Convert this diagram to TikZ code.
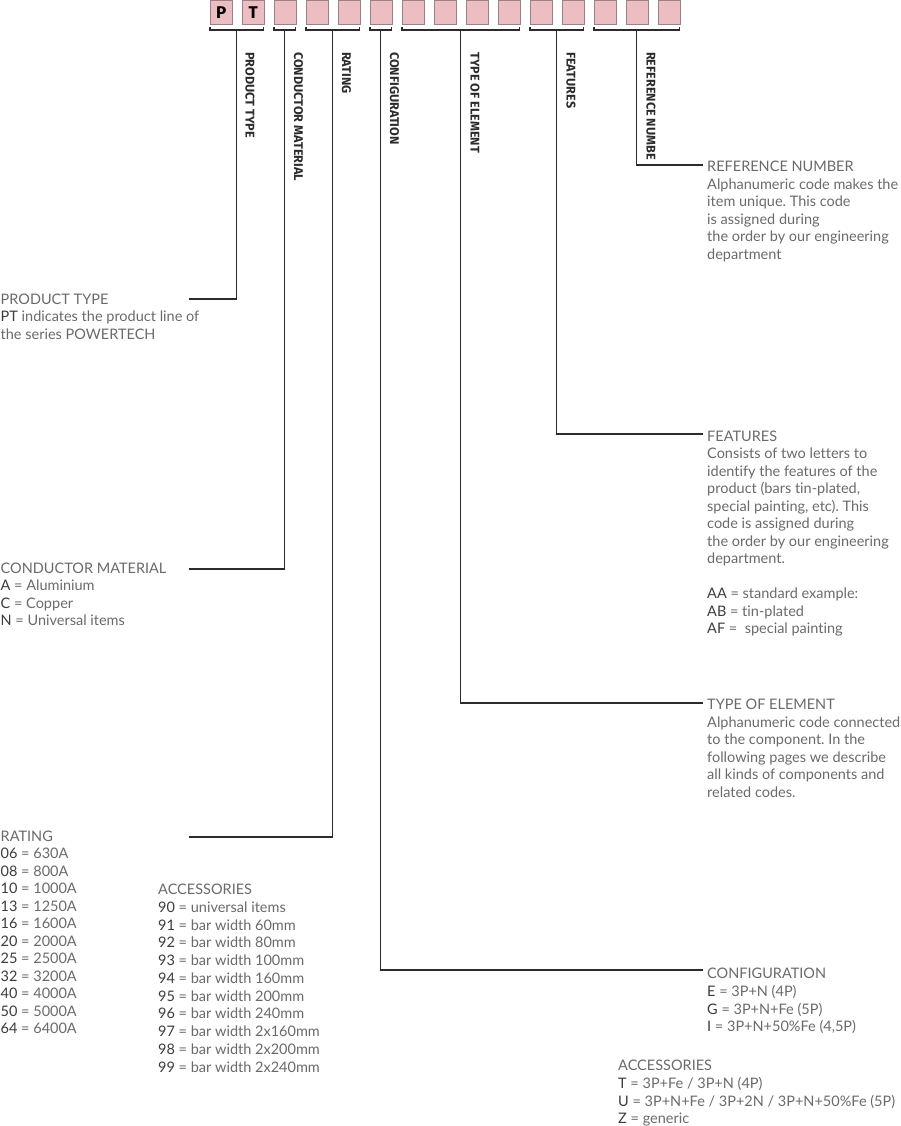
\documentclass[tikz,border=0pt]{standalone}
\usepackage{fontspec}
\setmainfont{Lato}[Ligatures={NoCommon}]
\newfontfamily\lblfont{Fira Sans}
\frenchspacing
\definecolor{txt}{HTML}{6A6A6A}
\definecolor{code}{HTML}{3C3C3C}
\definecolor{boxfill}{HTML}{ECBDC1}
\definecolor{boxline}{HTML}{9C8285}
\definecolor{ln}{HTML}{2B2B2B}
\newcommand{\cd}[1]{\textcolor{code}{#1}}
\tikzset{
  cbox/.style={draw=boxline, fill=boxfill, line width=0.8pt, minimum width=21.5pt, minimum height=23.5pt, inner sep=0pt, anchor=north west, font=\lblfont\bfseries\fontsize{17}{17}\selectfont, text=black},
  vlabel/.style={rotate=-90, anchor=west, inner sep=0pt, font=\lblfont\bfseries\fontsize{12.6}{13}\selectfont, text=ln},
  block/.style={anchor=north west, inner sep=0pt, align=left, text=txt, font=\fontsize{14.5}{17.5}\selectfont},
  conn/.style={draw=ln, line width=1.4pt},
  brk/.style={draw=ln, line width=1.2pt}
}
\begin{document}
\begin{tikzpicture}[x=1pt,y=-1pt]
\useasboundingbox (0,0) rectangle (900,1126);
% boxes
\foreach \i in {0,...,14}{
  \node[cbox] (b\i) at ({210+32*\i},0.5) {};
}
\node[font=\lblfont\bfseries\fontsize{17}{17}\selectfont] (tP) at (b0.center) {P};
\node[font=\lblfont\bfseries\fontsize{17}{17}\selectfont] (tT) at (b1.center) {T};
% brackets
\draw[brk] (210,27) -- (210,30) -- (263.5,30) -- (263.5,27);
\draw[brk] (274,27) -- (274,30) -- (295.5,30) -- (295.5,27);
\draw[brk] (306,27) -- (306,30) -- (359.5,30) -- (359.5,27);
\draw[brk] (370,27) -- (370,30) -- (391.5,30) -- (391.5,27);
\draw[brk] (402,27) -- (402,30) -- (519.5,30) -- (519.5,27);
\draw[brk] (530,27) -- (530,30) -- (583.5,30) -- (583.5,27);
\draw[brk] (594,27) -- (594,30) -- (679.5,30) -- (679.5,27);
\coordinate (sPT) at (236.75,30);
\coordinate (sCM) at (284.75,30);
\coordinate (sR) at (332.75,30);
\coordinate (sC) at (380.75,30);
\coordinate (sTE) at (460.75,30);
\coordinate (sF) at (556.75,30);
\coordinate (sRN) at (636.75,30);
% vertical labels
\node[vlabel] (lPT) at (250,52) {PRODUCT TYPE};
\node[vlabel] (lCM) at (298.5,52) {CONDUCTOR MATERIAL};
\node[vlabel] (lR) at (346.5,52) {RATING};
\node[vlabel] (lC) at (394.5,52) {CONFIGURATION};
\node[vlabel] (lTE) at (475,52) {TYPE OF ELEMENT};
\node[vlabel] (lF) at (571,52) {FEATURES};
\node[vlabel] (lRN) at (651,52) {REFERENCE NUMBE};
% end points
\coordinate (ePT) at (189,299);
\coordinate (eCM) at (189,569);
\coordinate (eR) at (189,837);
\coordinate (eC) at (703,970);
\coordinate (eTE) at (703,703);
\coordinate (eF) at (703,434);
\coordinate (eRN) at (703,165);
\draw[conn] (sPT) |- (ePT);
\draw[conn] (sCM) |- (eCM);
\draw[conn] (sR) |- (eR);
\draw[conn] (sC) |- (eC);
\draw[conn] (sTE) |- (eTE);
\draw[conn] (sF) |- (eF);
\draw[conn] (sRN) |- (eRN);
% text blocks
\node[block] (tPT) at (0.5,292) {\strut PRODUCT TYPE\\
\cd{PT} indicates the product line of\\
the series POWERTECH};
\node[block] (tCM) at (0.5,561) {\strut CONDUCTOR MATERIAL\\
\cd{A} = Aluminium\\
\cd{C} = Copper\\
\cd{N} = Universal items};
\node[block] (tR) at (0.5,829) {\strut RATING\\
\cd{06} = 630A\\
\cd{08} = 800A\\
\cd{10} = 1000A\\
\cd{13} = 1250A\\
\cd{16} = 1600A\\
\cd{20} = 2000A\\
\cd{25} = 2500A\\
\cd{32} = 3200A\\
\cd{40} = 4000A\\
\cd{50} = 5000A\\
\cd{64} = 6400A};
\node[block, font=\fontsize{14.5}{17.75}\selectfont] (tAL) at (158,882) {\strut ACCESSORIES\\
\cd{90} = universal items\\
\cd{91} = bar width 60mm\\
\cd{92} = bar width 80mm\\
\cd{93} = bar width 100mm\\
\cd{94} = bar width 160mm\\
\cd{95} = bar width 200mm\\
\cd{96} = bar width 240mm\\
\cd{97} = bar width 2x160mm\\
\cd{98} = bar width 2x200mm\\
\cd{99} = bar width 2x240mm};
\node[block, font=\fontsize{14.5}{17.6}\selectfont] (tRN) at (707,159) {\strut REFERENCE NUMBER\\
Alphanumeric code makes the\\
item unique. This code\\
is assigned during\\
the order by our engineering\\
department};
\node[block] (tF) at (707,429) {\strut FEATURES\\
Consists of two letters to\\
identify the features of the\\
product (bars tin-plated,\\
special painting, etc). This\\
code is assigned during\\
the order by our engineering\\
department.\\[17.5pt]
\cd{AA} = standard example:\\
\cd{AB} = tin-plated\\
\cd{AF} = \ special painting};
\node[block, font=\fontsize{14.5}{17.6}\selectfont] (tTE) at (707,697) {\strut TYPE OF ELEMENT\\
Alphanumeric code connected\\
to the component. In the\\
following pages we describe\\
all kinds of components and\\
related codes.};
\node[block, font=\fontsize{14.5}{17.7}\selectfont] (tC) at (707,966) {\strut CONFIGURATION\\
\cd{E} = 3P+N (4P)\\
\cd{G} = 3P+N+Fe (5P)\\
\cd{I} = 3P+N+50\%Fe (4,5P)};
\node[block, font=\fontsize{14.5}{17.7}\selectfont] (tAR) at (618,1058) {\strut ACCESSORIES\\
\cd{T} = 3P+Fe / 3P+N (4P)\\
\cd{U} = 3P+N+Fe / 3P+2N / 3P+N+50\%Fe (5P)\\
\cd{Z} = generic};
\end{tikzpicture}
\end{document}
